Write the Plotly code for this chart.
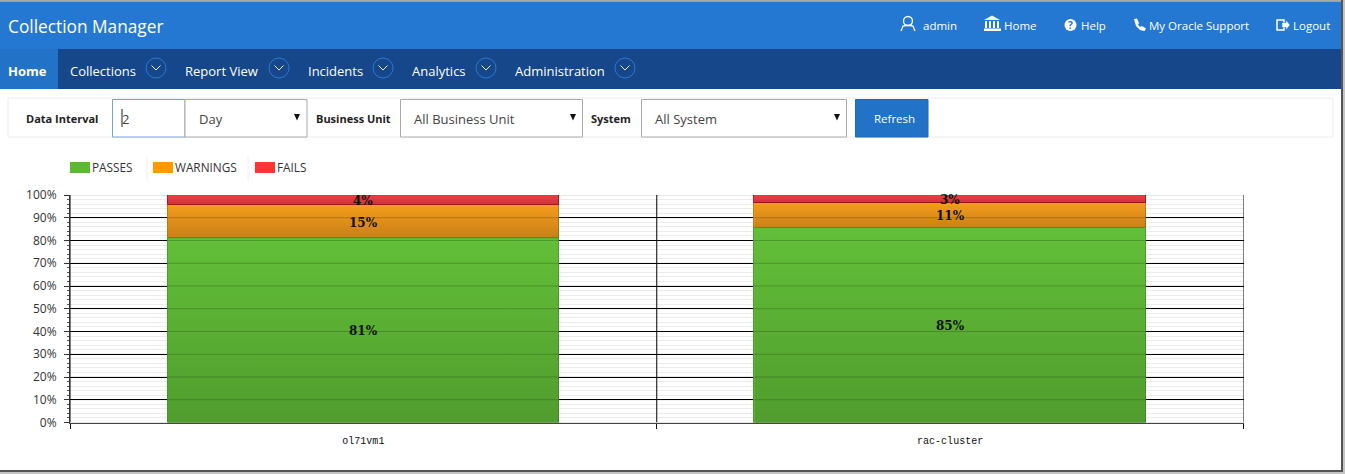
import plotly.graph_objects as go

W, H = 1345, 474
categories = ["ol71vm1", "rac-cluster"]
series_names = ["PASSES", "WARNINGS", "FAILS"]
passes = [81, 85.5]
warnings = [14.7, 11]
fails = [4.3, 3.5]
passes_labels = ["81%", "85%"]
warnings_labels = ["15%", "11%"]
fails_labels = ["4%", "3%"]
y_ticks = list(range(0, 101, 10))
y_minor = [v for v in range(0, 101, 2) if v % 10]
x_bounds = [-0.5, 0.5, 1.5]
colors = ["#62bf38", "#f49c1c", "#f33e44"]
borders = ["#4f9f2e", "#bf7f14", "#c4181e"]
BAR_W = 0.667
UI = "Open Sans"


def X(p):
    return p / W


def Y(p):
    return 1 - p / H


x_pos = list(range(len(categories)))
fig = go.Figure()
shapes, ann = [], []

values = [passes, warnings, fails]
labels = [passes_labels, warnings_labels, fails_labels]
base = [0.0] * len(categories)
shade = []
for vals, name, col, bc, labs in zip(values, series_names, colors, borders, labels):
    fig.add_trace(go.Bar(x=x_pos, y=vals, name=name, width=BAR_W, showlegend=False,
                         marker=dict(color=col, line=dict(color=bc, width=1)), hoverinfo="name+y"))
    for i, v in enumerate(vals):
        lo, hi = base[i], base[i] + v
        shade.append((i, lo, hi))
        ann.append(dict(xref="x", yref="y", x=i, y=(lo + hi) / 2, text=labs[i], showarrow=False,
                        yshift=-1, borderpad=0,
                        font=dict(family="DejaVu Serif", size=12, color="#111", weight="bold")))
        base[i] = hi

for i, lo, hi in shade:
    l, r = i - BAR_W / 2, i + BAR_W / 2
    fig.add_trace(go.Scatter(
        x=[l, r, r, l, l], y=[lo, lo, hi, hi, lo], mode="none", fill="toself",
        fillgradient=dict(type="vertical",
                          colorscale=[[0, "rgba(0,0,0,0.18)"], [1, "rgba(0,0,0,0)"]]),
        showlegend=False, hoverinfo="skip"))

gx, gy = [], []
for t in y_ticks:
    gx += [x_bounds[0], x_bounds[-1], None]
    gy += [t, t, None]
fig.add_trace(go.Scatter(x=gx, y=gy, mode="lines", line=dict(color="rgba(0,0,0,0.2)", width=1),
                         showlegend=False, hoverinfo="skip"))
vx, vy = [], []
for b in x_bounds:
    vx += [b, b, None]
    vy += [y_ticks[0], y_ticks[-1], None]
fig.add_trace(go.Scatter(x=vx, y=vy, mode="lines", line=dict(color="#000", width=1), cliponaxis=False,
                         showlegend=False, hoverinfo="skip"))


def rect(x0, y0, x1, y1, fill=None, line=None, lw=1):
    shapes.append(dict(type="rect", xref="paper", yref="paper", x0=X(x0), x1=X(x1), y0=Y(y0), y1=Y(y1),
                       fillcolor=fill or "rgba(0,0,0,0)",
                       line=dict(color=line or "rgba(0,0,0,0)", width=lw if line else 0)))


def circle(cx, cy, r, fill=None, line=None, lw=1):
    shapes.append(dict(type="circle", xref="paper", yref="paper", x0=X(cx - r), x1=X(cx + r),
                       y0=Y(cy + r), y1=Y(cy - r), fillcolor=fill or "rgba(0,0,0,0)",
                       line=dict(color=line or "rgba(0,0,0,0)", width=lw if line else 0)))


def path(points, fill=None, line=None, lw=1, close=True):
    d = "M" + " L".join(f"{X(a):.5f},{Y(b):.5f}" for a, b in points) + (" Z" if close else "")
    shapes.append(dict(type="path", xref="paper", yref="paper", path=d,
                       fillcolor=fill or "rgba(0,0,0,0)",
                       line=dict(color=line or "rgba(0,0,0,0)", width=lw if line else 0)))


def text(x, y, s, size=12.5, color="#333", anchor="left", bold=False, family=UI):
    ann.append(dict(xref="paper", yref="paper", x=X(x - 1 if anchor == "left" else x), y=Y(y),
                    text=f"<b>{s}</b>" if bold else s,
                    showarrow=False, xanchor=anchor, yanchor="middle", borderpad=0,
                    font=dict(family=family, size=size, color=color)))


# window frame
rect(0, 0, W, 1.5, fill="#a9a9a9")
rect(0, 1.5, W, 49, fill="#2478d2")
rect(0, 49, W, 89, fill="#15478a")
rect(0, 49, 58, 89, fill="#2272c8")
rect(1341, 0, 1343, 471, fill="#555")
rect(1343, 0, W, H, fill="#c4c4c4")
rect(0, 470, 1343, 472, fill="#555")
rect(0, 472, W, H, fill="#c4c4c4")

text(8, 26, "Collection Manager", size=17.3, color="#fff")

# header icons + links
circle(908, 21, 4.5, line="#fff", lw=1.3)
path([(901, 31), (903, 26), (906, 25.5), (910, 25.5), (913, 26), (915, 31)], line="#fff", lw=1.3, close=False)
text(923, 25, "admin", size=11.5, color="#fff")
path([(984, 20), (992, 15.5), (1000, 20)], fill="#fff")
for bx in (986, 990, 994, 998):
    rect(bx - 1, 21, bx + 1, 28, fill="#fff")
rect(984, 28.5, 1001, 31, fill="#fff")
text(1004, 25, "Home", size=11.5, color="#fff")
circle(1070.5, 25, 6, fill="#fff")
text(1070.5, 25, "?", size=10, color="#2478d2", anchor="center", bold=True)
text(1081, 25, "Help", size=11.5, color="#fff")
path([(1134, 19), (1137, 18.5), (1139, 23), (1138, 24.5), (1140, 27), (1142, 26), (1146, 28.5), (1144.5, 31), (1140, 30), (1136, 26)], fill="#fff")
text(1148.5, 25, "My Oracle Support", size=11.5, color="#fff")
rect(1277, 20, 1284, 30, line="#fff", lw=1.5)
path([(1282, 22.5), (1286, 22.5), (1286, 20), (1290, 25), (1286, 30), (1286, 27.5), (1282, 27.5)], fill="#fff", line="#2478d2", lw=0.5)
text(1293, 25, "Logout", size=11.5, color="#fff")

# nav
text(8, 71, "Home", size=13, color="#fff", bold=True)
nav_items = [("Collections", 70, 156), ("Report View", 185, 279), ("Incidents", 308, 383),
             ("Analytics", 412, 486), ("Administration", 515, 625)]
for label, tx, cx in nav_items:
    text(tx, 71, label, size=13, color="#fff")
    circle(cx, 68, 10, line="#2b78d0", lw=1)
    path([(cx - 4.5, 65.5), (cx, 70), (cx + 4.5, 65.5)], line="#e8eef8", lw=1, close=False)

# toolbar
rect(8, 98, 1333, 137, fill="#fff", line="#ececec")
text(26, 118.5, "Data Interval", size=11, color="#222", bold=True)
rect(112.5, 99.5, 185, 137, fill="#fff", line="#7a9fdc")
path([(122, 109), (122, 127)], line="#222", lw=1, close=False)
text(122, 118.5, "2", size=13, color="#444")
rect(185, 99.5, 307, 137, fill="#fff", line="#aaa")
text(199, 118.5, "Day", size=13, color="#444")
text(316, 118.5, "Business Unit", size=11, color="#222", bold=True)
rect(400.5, 99.5, 582.5, 137, fill="#fff", line="#aaa")
text(414, 118.5, "All Business Unit", size=13, color="#444")
text(591, 118.5, "System", size=11, color="#222", bold=True)
rect(641.5, 99.5, 846.5, 137, fill="#fff", line="#aaa")
text(655, 118.5, "All System", size=13, color="#444")
for ax in (297, 573, 837):
    path([(ax - 3, 114), (ax + 3, 114), (ax, 120.5)], fill="#111")
rect(855.5, 99.5, 928, 137, fill="#2272c8", line="#1f69b8")
text(894, 118.5, "Refresh", size=11.5, color="#fff", anchor="center")

# legend
legend_pos = [(70, 92), (153, 175), (255, 277)]
legend_cols = ["#5cba2e", "#ff9900", "#ff3333"]
for name, (sx, tx), c in zip(series_names, legend_pos, legend_cols):
    rect(sx, 162, sx + 20, 173, fill=c)
    text(tx, 167, name, size=11.8, color="#333")
for dx in (147, 248):
    path([(dx, 157), (dx, 181)], line="#eeeeee", lw=1, close=False)

fig.update_layout(
    width=W, height=H, margin=dict(l=0, r=0, t=0, b=0, autoexpand=False), autosize=False,
    paper_bgcolor="#fff", plot_bgcolor="#fff", barmode="stack", bargap=0,
    shapes=shapes, annotations=ann, showlegend=False, font=dict(family=UI),
    xaxis=dict(domain=[X(70), X(1243.5)], range=[-0.5, 1.5], tickmode="array", tickvals=x_pos,
               ticktext=categories, ticks="", showgrid=False, zeroline=False,
               showline=True, linecolor="#444", linewidth=1, anchor="y",
               tickfont=dict(family="Liberation Mono", size=10, color="#111"), ticklabelstandoff=8,
               minor=dict(tickmode="array", tickvals=x_bounds, ticks="outside", ticklen=5,
                          tickcolor="#111", tickwidth=1, showgrid=False)),
    yaxis=dict(domain=[Y(422.5), Y(195)], range=[0, 100], tickmode="array", tickvals=y_ticks,
               ticktext=[f"{v}%" for v in y_ticks], ticks="outside", ticklen=5, tickcolor="#333",
               showgrid=True, gridcolor="#000", gridwidth=1, zeroline=False, showline=True,
               linecolor="#333", tickfont=dict(family=UI, size=12, color="#333"), ticklabelstandoff=5,
               minor=dict(tickmode="array", tickvals=y_minor, ticks="outside", ticklen=2, tickcolor="#555",
                          showgrid=True, gridcolor="#ececec", gridwidth=1)),
)

fig.write_html("out.html", config={"displayModeBar": False},
               post_script="document.body.style.margin='0';document.body.style.overflow='hidden';")
